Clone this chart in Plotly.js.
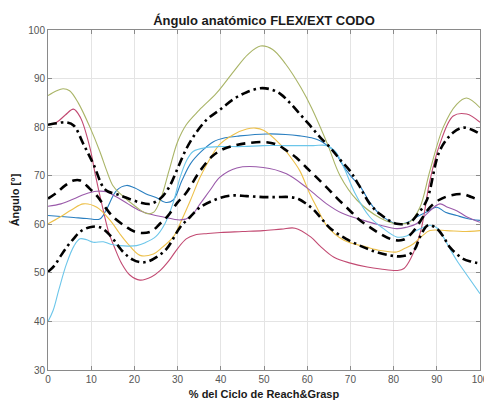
<!DOCTYPE html>
<html>
<head>
<meta charset="utf-8">
<script src="https://cdn.plot.ly/plotly-3.0.1.min.js"></script>
<style>html,body{margin:0;padding:0;background:#fff;}#chart{width:484px;height:401px;}</style>
</head>
<body>
<div id="chart"></div>
<script>
// ---- data ----
var blueX = [0,3,6,9,12,13.5,15.9,18.2,20,22.6,25,27.3,29,31,33,35.5,38.3,41,44.4,50.6,55,58.3,61,63,65,66.2,68,70,72.4,74.5,76.9,80.7,83,85.3,87.5,90,92,94.6,97,100];
var blueY = [61.8,61.6,61.4,61.2,61.1,63,67,68,67.5,66.3,65.5,64.5,65,69,72.5,75,77,77.8,78.2,78.6,78.5,78.2,77.8,77.2,76,75.2,72.5,70,67.6,64.5,62,60.1,60.3,61.5,62.5,63.5,62.5,61.8,61.2,60.8];

var redX = [0,2,4,5.9,7.5,9.7,11,12.5,14,15.5,17,19,21.3,24,26,28,30,32,34,37,40,45,49.8,54,57.2,60.8,63,66.2,70,73.9,77,80.9,82.4,84,86.3,88.4,90.7,93.8,96.9,100];
var redY = [80.5,81,82.5,83.7,82,75.8,70,64,58.5,55,52,49.5,48.5,49.2,50.5,52.5,55,57,57.8,58.1,58.3,58.5,58.7,59,59.2,57.4,55.5,53.2,52,51.2,50.8,50.5,50.9,53,58.7,69,76.5,82.3,82.7,81];

var yellowX = [0,2.8,5.5,8.2,11.3,14.4,16.5,18.2,21.3,24.4,26.5,29,31,33,35.2,37.5,39.8,43,46,48,50,53.7,56,58.3,60.5,62.2,64.7,68.5,73.8,77,80.7,82.5,84.6,86.5,88.4,92.3,96,100];
var yellowY = [60.1,61.5,63,64.2,63.5,60.8,58.2,56.3,53.6,53.9,55.3,57.4,61,65,69.7,73.5,76.5,78.5,79.6,79.8,79.3,76.5,74,71,66.5,63.5,59.5,56.7,55.3,54.6,54.3,55,56,57.5,58.7,58.7,58.5,58.7];

var purpleX = [0,3,5.9,8.5,11.3,13.5,15.9,18.5,21.3,24,26.7,30.6,32.9,35.2,37.5,39.8,43.7,49.8,55.2,59.8,62,64.5,68,73,77,80.7,83,85.3,87.5,90.7,92.5,94.6,97,100];
var purpleY = [63.7,64.2,65.2,66.2,66.8,66.7,65.6,64.2,62.8,62,61.5,60.9,61.5,64.2,67,69.7,71.6,71.7,70.4,67.6,66,64.2,62.3,60.8,59.8,59.1,59.4,60.1,62,64.2,63.5,62.8,61.5,60.4];

var oliveX = [0,2,3.5,5,7,9.7,12,13.6,15,16.7,20.5,23,24.5,26,28,30,32,35,39,43,46.3,49.2,52,55,58.5,61,64.7,67.6,71.5,76.9,80.7,83.8,86.1,88.4,91.5,94.6,96.9,100];
var oliveY = [86.5,87.5,87.9,87.5,85,80,75,71,68,66.3,63.5,62.2,62.5,65,71,77,80.5,83.5,87,91.5,95,96.7,96,93,88.2,84,76.5,70,65,61.3,60.1,60.5,63.5,71,80,84.7,86,84];

var cyanX = [0,1.2,2.5,4.3,6,7.4,9,10.5,12.8,14.5,16.7,18.5,20.5,22.5,25,27,29,30.6,32,33.6,36.7,40,45,49.8,55,61.4,64.5,66.5,68.5,71,74.5,77.5,80.7,83,85.3,88.4,90,91.5,93,94.6,97,100];
var cyanY = [40,42.3,46.5,51.9,55.5,57,56.8,56.3,56.4,55.9,55.6,55.5,55.6,56.2,57.5,60,64.5,69.7,73,75,75.8,76,76,76.2,76.2,76.2,76.2,75,71.7,66.5,61.5,59.2,57.4,57.6,58.7,59.8,59.3,57.4,55,52.6,49.5,45.7];

var upperX = [0,2,4.3,6,8.2,10.5,12.8,14,15.9,18,21.3,23.6,26,28,30,32,34,36.7,39.8,43,46,49.1,51.5,53.7,56,58.3,60.5,63,65.3,67.6,69.9,72,74.5,77,80.7,83.8,85.5,87.7,90.7,93.8,96.1,98,100];
var upperY = [80.5,80.8,81,80.3,76.5,72.4,67.6,66.7,66.2,65.5,64.5,64.2,65.3,67.6,71.5,75.5,78.5,81.5,83.6,85.8,87.2,88,87.8,86.9,85,82.7,80.5,77.9,75.8,73.3,71,68,64.2,62,60.1,60.4,62,65,75.2,78.9,79.9,79.5,78.6];

var meanX = [0,2,4,5.9,7.5,9.7,11.3,13,15.1,18.2,20,22,24,25.9,27.8,30,32,35.2,38,40.6,43,46,50.6,53,55.2,57.5,59.8,62,64.5,67,69.9,72,74.5,77,79.9,82.2,83.8,85.3,86.8,88.4,90.5,93,96.1,98,100];
var meanY = [65.3,66.5,68,69,69,67.3,65.9,63.8,61.5,59.4,58.5,58.2,58.6,60.1,61.8,64.5,66.5,71,74,75.5,76.2,76.7,76.9,76.4,75.2,73.7,71.7,69.8,67.6,65.3,62.8,61,59.4,58,56.8,56.8,57.8,59.4,61.5,63.5,65,65.9,66.2,65.6,64.9];

var lowerX = [0,1.5,2.8,4.5,5.9,7.5,9.7,12,14.4,17.4,19.5,21.3,23,25.2,27.5,30.6,32.9,35.2,38.5,42.1,46,49.8,53,56,58,59.8,61.5,63,65.3,69,73,76,79.2,81.5,83.8,85,86.1,88,90,91.5,93,96.1,98,100];
var lowerY = [50.2,51.5,53.3,55.5,57,58.5,59.4,59.4,57.7,54.3,52.8,52.2,52.3,53.3,55,59.4,61.5,63.5,65,65.9,65.8,65.6,65.6,65.6,65.2,64.2,63,61.5,59.2,57,55.3,54.3,53.6,53.4,53.9,55,57.4,59.8,59.1,57.5,55.3,52.9,52.3,51.9];

var xTicks = [0,10,20,30,40,50,60,70,80,90,100];
var yTicks = [30,40,50,60,70,80,90,100];
var titleText = 'Ángulo anatómico FLEX/EXT CODO';
var xTitle = '% del Ciclo de Reach&amp;Grasp';
var yTitle = 'Ángulo [°]';

// ---- traces ----
function thin(x, y, color) {
  return {x: x, y: y, type: 'scatter', mode: 'lines', line: {color: color, width: 1.1, shape: 'spline', smoothing: 1}, hoverinfo: 'skip', cliponaxis: true};
}
function thick(x, y, dash) {
  return {x: x, y: y, type: 'scatter', mode: 'lines', line: {color: '#000', width: 2.6, dash: dash, shape: 'spline', smoothing: 1}, hoverinfo: 'skip', cliponaxis: true};
}
var traces = [
  thin(blueX, blueY, '#2a7fc0'),
  thin(redX, redY, '#c24a72'),
  thin(yellowX, yellowY, '#edc04a'),
  thin(purpleX, purpleY, '#9a5aaa'),
  thin(oliveX, oliveY, '#a9b466'),
  thin(cyanX, cyanY, '#6cc6ea'),
  thick(upperX, upperY, '9px,4px,2.5px,4px'),
  thick(meanX, meanY, '9px,6px'),
  thick(lowerX, lowerY, '9px,4px,2.5px,4px')
];

var axisCommon = {
  showline: true, linecolor: '#8a8a8a', linewidth: 1, mirror: 'allticks',
  ticks: 'inside', ticklen: 4, tickcolor: '#8a8a8a', tickwidth: 1,
  showgrid: true, gridcolor: '#e4e4e4', gridwidth: 1, zeroline: false,
  ticklabeloverflow: 'allow',
  tickfont: {family: 'Liberation Sans, Arial, sans-serif', size: 10, color: '#555'}
};

var layout = {
  width: 484, height: 401,
  margin: {l: 48, r: 4, t: 30, b: 31, pad: 0},
  paper_bgcolor: '#fff', plot_bgcolor: '#fff',
  showlegend: false,
  title: {text: titleText, x: 0.5, xref: 'paper', y: 1 - 20/401, yref: 'container', yanchor: 'middle',
          font: {family: 'Liberation Sans, Arial, sans-serif', size: 13, color: '#1a1a1a', weight: 'bold'}},
  xaxis: Object.assign({}, axisCommon, {
    range: [0, 100.0001], tickvals: xTicks, ticktext: xTicks.map(String),
    title: {text: xTitle, standoff: 6, font: {family: 'Liberation Sans, Arial, sans-serif', size: 11, color: '#1a1a1a', weight: 'bold'}}
  }),
  yaxis: Object.assign({}, axisCommon, {
    range: [30, 100], tickvals: yTicks, ticktext: yTicks.map(String),
    title: {text: yTitle, standoff: 6, font: {family: 'Liberation Sans, Arial, sans-serif', size: 11, color: '#1a1a1a', weight: 'bold'}}
  })
};

Plotly.newPlot('chart', traces, layout, {staticPlot: true, displayModeBar: false});
</script>
</body>
</html>
